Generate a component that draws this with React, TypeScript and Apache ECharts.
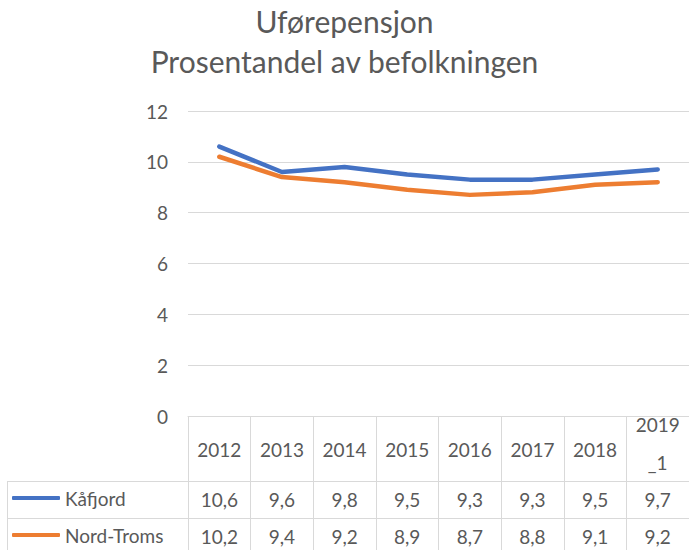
import React, { useEffect, useRef } from "react";
import * as echarts from "echarts";

const categories = ["2012", "2013", "2014", "2015", "2016", "2017", "2018", "2019_1"];
const kafjord = [10.6, 9.6, 9.8, 9.5, 9.3, 9.3, 9.5, 9.7];
const nordTroms = [10.2, 9.4, 9.2, 8.9, 8.7, 8.8, 9.1, 9.2];
const seriesNames = ["Kåfjord", "Nord-Troms"];
const titleLines = ["Uførepensjon", "Prosentandel av befolkningen"];
const yTicks = { min: 0, max: 12, interval: 2 };

const FONT = "Lato, 'Open Sans', sans-serif";
const TXT = "#595959";
const GRID = "#D9D9D9";

const fmt = (v: number) => String(v).replace(".", ",");

export default function App() {
  const ref = useRef<HTMLDivElement>(null);
  useEffect(() => {
    if (!ref.current) return;
    const chart = echarts.init(ref.current, undefined, { renderer: "svg" });
    const labelBase = { color: TXT, fontSize: 19, fontFamily: FONT };
    const titleStyle = { color: TXT, fontSize: 30, fontWeight: "normal", fontFamily: FONT };
    chart.setOption({
      animation: false,
      title: [
        { text: titleLines[0], left: "center", top: 6, padding: 0, textStyle: titleStyle },
        { text: titleLines[1], left: "center", top: 46, padding: 0, textStyle: titleStyle },
      ],
      legend: [
        {
          data: [seriesNames[0]],
          left: 12,
          top: 487,
          padding: 0,
          orient: "vertical",
          icon: "roundRect",
          itemWidth: 48,
          itemHeight: 4,
          textStyle: { ...labelBase, lineHeight: 22 },
          selectedMode: false,
        },
        {
          data: [seriesNames[1]],
          left: 12,
          top: 524,
          padding: 0,
          orient: "vertical",
          icon: "roundRect",
          itemWidth: 48,
          itemHeight: 4,
          textStyle: { ...labelBase, lineHeight: 22 },
          selectedMode: false,
        },
      ],
      grid: { left: 188, right: 0, top: 111, bottom: 134, containLabel: false },
      xAxis: [
        {
          type: "category",
          data: categories,
          position: "bottom",
          boundaryGap: true,
          axisLine: { show: true, lineStyle: { color: GRID, width: 1 } },
          axisTick: { show: true, interval: 0, length: 134, lineStyle: { color: GRID, width: 1 } },
          axisLabel: {
            ...labelBase,
            interval: 0,
            margin: 33,
            lineHeight: 38,
            verticalAlign: "middle",
            formatter: (v: string) => (v.length > 4 ? "{t|" + v.slice(0, 4) + "\n" + v.slice(4) + "}" : v),
            rich: { t: { ...labelBase, lineHeight: 38, padding: [0, 0, 12, 0] } },
          },
        },
        {
          type: "category",
          data: categories,
          position: "bottom",
          offset: 65,
          axisLine: { show: true, lineStyle: { color: GRID, width: 1 } },
          axisTick: { show: false },
          axisLabel: {
            ...labelBase,
            interval: 0,
            margin: 18,
            verticalAlign: "middle",
            formatter: (_v: string, i: number) => fmt(kafjord[i]),
          },
        },
        {
          type: "category",
          data: categories,
          position: "bottom",
          offset: 102,
          axisLine: { show: true, lineStyle: { color: GRID, width: 1 } },
          axisTick: { show: false },
          axisLabel: {
            ...labelBase,
            interval: 0,
            margin: 18,
            verticalAlign: "middle",
            formatter: (_v: string, i: number) => fmt(nordTroms[i]),
          },
        },
      ],
      yAxis: {
        type: "value",
        min: yTicks.min,
        max: yTicks.max,
        interval: yTicks.interval,
        axisLine: { show: false },
        axisTick: { show: false },
        axisLabel: { ...labelBase, margin: 20 },
        splitLine: { show: true, lineStyle: { color: GRID, width: 1 } },
      },
      graphic: [
        { type: "line", shape: { x1: 7, y1: 481.5, x2: 188, y2: 481.5 }, style: { stroke: GRID, lineWidth: 1 } },
        { type: "line", shape: { x1: 7, y1: 518.5, x2: 188, y2: 518.5 }, style: { stroke: GRID, lineWidth: 1 } },
        { type: "line", shape: { x1: 7.5, y1: 481, x2: 7.5, y2: 550 }, style: { stroke: GRID, lineWidth: 1 } },
      ],
      series: [
        {
          name: seriesNames[0],
          type: "line",
          data: kafjord,
          symbol: "none",
          color: "#4472C4",
          lineStyle: { width: 4.5, color: "#4472C4", cap: "round", join: "round" },
        },
        {
          name: seriesNames[1],
          type: "line",
          data: nordTroms,
          symbol: "none",
          color: "#ED7D31",
          lineStyle: { width: 4.5, color: "#ED7D31", cap: "round", join: "round" },
        },
      ],
    });
    return () => chart.dispose();
  }, []);
  return <div ref={ref} style={{ width: 689, height: 550, position: "absolute", left: 0, top: 0 }} />;
}
